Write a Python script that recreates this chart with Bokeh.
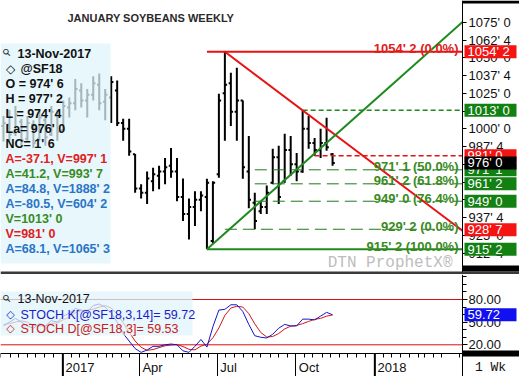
import pandas as pd
from bokeh.plotting import figure
from bokeh.models import Range1d, FixedTicker, Label, BoxAnnotation, ColumnDataSource
from bokeh.layouts import column
from bokeh.embed import file_html
from bokeh.resources import INLINE

# ---------------- data ----------------
last_week = "2017-11-13"
opens = [1002, 1003, 997, 1005, 993, 1003, 993, 1006, 996, 1010, 999, 1015, 1018, 1027, 1020, 1024, 1031, 1019, 1022, 1027,
         1004, 1000, 982, 958, 955, 963, 967, 970, 974, 970, 952, 940, 945, 950, 952, 921, 968, 1025, 1032, 1012,
         1020, 970, 948, 942, 945, 962, 980, 963, 985, 975, 970, 1000, 990, 985, 990, 982]
highs = [1009, 1013, 1016, 1007, 1009, 1006, 1013, 1009, 1016, 1013, 1020, 1022, 1035, 1032, 1028, 1037, 1039, 1028, 1037, 1034,
         1007, 1007, 982.25, 961, 970, 972.5, 974, 979.5, 986.5, 979.5, 965, 951, 956, 956, 964.75, 963, 1024.75, 1054.25, 1039.5, 1043,
         1020, 995, 955, 949, 960, 986, 988, 996.5, 995, 983, 1013, 1009, 993.5, 1000, 1007.75, 983]
lows = [991, 991.5, 995, 988, 991.5, 986.5, 991.5, 988, 995, 991.5, 998.5, 1008, 1013, 1015, 1008, 1020, 1013, 1006, 1004, 1002,
        991.5, 981, 955, 951, 947, 956, 957.5, 961, 965.5, 949, 935, 922, 931.5, 942, 915.25, 919, 965.5, 991.5, 1002, 991.5,
        964.75, 944, 929.25, 940, 940, 961, 947, 962, 967, 963, 969, 986, 981, 979.5, 984.5, 974]
closes = [1004, 996, 1010, 992, 1004, 990, 1008, 994, 1012, 998, 1016, 1018, 1028, 1020, 1024, 1032, 1018, 1024, 1033, 1004,
          1000, 984, 958, 955, 965, 968, 970, 973, 970, 952, 940, 945, 950, 953, 962, 962, 1020, 1031, 1012, 1020,
          973, 950, 935, 945, 955, 980, 952, 985, 975, 970, 1000, 990, 985, 990, 987, 976]

stoch_k = [45, 50, 55, 50, 45, 42, 48, 45, 52, 50, 58, 62, 68, 66, 64, 72, 74, 70, 62, 50,
           35, 25, 15, 10, 13, 18, 18, 20, 21, 20, 12, 10, 18, 27, 17, 44, 66, 67, 73, 73,
           64, 47, 32, 30, 29, 34, 42, 47, 45, 45, 54, 54, 53, 58, 63, 59.72]
stoch_d = [47, 48, 50, 51.7, 50, 45.7, 45, 45, 48.3, 49, 53.3, 56.7, 62.7, 65.3, 66, 67.3, 70, 72, 68.7, 60.7,
           49, 36.7, 25, 16.7, 12.7, 13.7, 16.3, 18.7, 19.7, 20.3, 17.7, 14, 13.3, 18.3, 20.7, 29.3, 42.3, 59, 68.7, 71,
           70, 61.3, 47.7, 36.3, 30.3, 31, 35, 41, 44.7, 45.7, 48, 51, 53.7, 55, 58, 59.53]

price_ticks = [912.5, 925.0, 937.5, 950.0, 962.5, 975.0, 987.5, 1000.0, 1012.5, 1025.0, 1037.5, 1050.0, 1062.5, 1075.0]
price_tick_labels = ["912' 4", "925' 0", "937' 4", "950' 0", "962' 4", "975' 0", "987' 4", "1000' 0",
                     "1012' 4", "1025' 0", "1037' 4", "1050' 0", "1062' 4", "1075' 0"]
stoch_ticks = [20, 50, 80]
stoch_tick_labels = ["20.00", "50.00", "80.00"]
stoch_minor = [10, 30, 40, 60, 70, 90, 100, 110]
stoch_levels = [20, 80]
quarter_dates = ["2017-01-01", "2017-04-01", "2017-07-01", "2017-10-01", "2018-01-01"]
quarter_labels = ["2017", "Apr", "Jul", "Oct", "2018"]
year_dates = ["2017-01-01", "2018-01-01"]

fib_levels = [1054.25, 971.125, 961.25, 949.0, 929.25, 915.25]
fib_texts = ["1054' 2 (0.0%)", "971' 1 (50.0%)", "961' 2 (61.8%)", "949' 0 (76.4%)", "929' 2 (0.0%)", "915' 2 (100.0%)"]
fib_starts = ["2017-06-19", "2017-08-14", "2017-08-14", "2017-08-14", "2017-07-10", "2017-06-19"]
resist_level, resist_start = 1013.0, "2017-10-09"
support_level, support_start = 981.0, "2017-10-23"
red_trend = (["2017-07-10", "2017-10-09"], [1054.25, 1013.0])
green_trend = (["2017-06-19", "2017-11-13"], [915.25, 993.875])

box_values = [1054.25, 1013.0, 981.0, 971.125, 961.25, 949.0, 928.875, 915.25, 976.0]
box_texts = ["1054' 2", "1013' 0", "981' 0", "971' 1", "961' 2", "949' 0", "928' 7", "915' 2", "976' 0"]
box_kinds = ["r", "g", "r", "g", "g", "g", "r", "g", "k"]

legend_lines = ["13-Nov-2017", "@SF18", "O = 974' 6", "H = 977' 2", "L = 974' 4", "La= 976' 0", "NC= 1' 6",
                "A=-37.1, V=997' 1", "A=41.2, V=993' 7", "A=84.8, V=1888' 2", "A=-80.5, V=604' 2",
                "V=1013' 0", "V=981' 0", "A=68.1, V=1065' 3"]
legend_kinds = ["k", "k", "k", "k", "k", "k", "k", "r", "g", "b", "b", "g", "r", "b"]

# ---------------- styling / layout helpers ----------------
RED = "#e81212"
GREEN = "#1f8a1f"
DGREEN = "#1e7a1e"
TXT_COL = {"k": "#111111", "r": "#e0201c", "g": "#3a8a1e", "b": "#2a74c6"}
BOX_COL = {"r": "#f51414", "g": "#138013", "k": "#000000"}
SANS = "Liberation Sans"
MONO = "Liberation Mono"


def ms(d):
    return pd.Timestamp(d).value / 1e6


X0, X1 = ms("2016-10-20 12:00"), ms("2018-04-14")   # plot area: pixel columns 0 .. 462
FW = 462
PX = (X1 - X0) / FW                                  # time per pixel


def xat(px):              # pixel column -> time
    return X0 + PX * px


def price_at(y):          # pixel row -> price (main panel)
    return 1000 + (128.3 - y) / 1.42


def stoch_at(y):          # pixel row -> stochastic value (lower panel)
    return 20 + (344.3 - y) / 0.755


XR = xat(519)             # right edge of the canvas (price scale area included)


def rect(fig, l, r, b, t, color, alpha=1.0):
    fig.add_layout(BoxAnnotation(left=l, right=r, bottom=b, top=t, fill_color=color,
                                 fill_alpha=alpha, line_color=None))


dates = pd.date_range(end=last_week, periods=len(highs), freq="7D")
src = ColumnDataSource(dict(x=dates, xl=dates - pd.Timedelta(days=2.6), xr=dates + pd.Timedelta(days=2.6),
                            o=opens, h=highs, l=lows, c=closes, k=stoch_k, d=stoch_d))

# ---------------- main panel ----------------
p1 = figure(width=519, height=274, x_axis_type="datetime", x_axis_location=None, y_axis_location="right",
            x_range=Range1d(X0, XR), y_range=Range1d(price_at(274), price_at(0)),
            output_backend="svg", toolbar_location=None,
            min_border_left=0, min_border_right=0, min_border_top=0, min_border_bottom=0)
p1.grid.visible = False
p1.outline_line_color = None
ya = p1.yaxis[0]
ya.fixed_location = X1
ya.ticker = FixedTicker(ticks=price_ticks)
ya.major_label_overrides = dict(zip(price_ticks, price_tick_labels))
ya.major_tick_out, ya.major_tick_in, ya.minor_tick_out, ya.minor_tick_in = 4, 0, 0, 0
ya.major_label_standoff = 2
ya.major_label_text_font = SANS
ya.major_label_text_font_size = "13px"
ya.major_label_text_color = "#111111"
ya.axis_line_color = "black"
ya.major_tick_line_color = "black"

# OHLC bars
p1.segment("x", "l", "x", "h", source=src, line_color="black", line_width=2)
p1.segment("xl", "o", "x", "o", source=src, line_color="black", line_width=2)
p1.segment("x", "c", "xr", "c", source=src, line_color="black", line_width=2)

# fib / level lines
for lvl, start in zip(fib_levels, fib_starts):
    if lvl == 1054.25:
        p1.line([ms(start), X1], [lvl, lvl], line_color=RED, line_width=2)
    elif lvl == 915.25:
        p1.line([ms(start), X1], [lvl, lvl], line_color=GREEN, line_width=2)
    else:
        p1.line([ms(start), X1], [lvl, lvl], line_color=DGREEN, line_width=1, line_dash="12 6")
p1.line([ms(resist_start), X1], [resist_level, resist_level], line_color=GREEN, line_width=1.5, line_dash="5 3")
p1.line([ms(support_start), X1], [support_level, support_level], line_color=RED, line_width=1.5, line_dash="5 3")

# trend lines extended to the right edge of the plot area
for (dts, vals), col in ((red_trend, RED), (green_trend, GREEN)):
    xa0, xa1 = ms(dts[0]), ms(dts[1])
    slope = (vals[1] - vals[0]) / (xa1 - xa0)
    p1.line([xa0, X1], [vals[0], vals[0] + slope * (X1 - xa0)], line_color=col, line_width=2)

# fib labels
for lvl, txt in zip(fib_levels, fib_texts):
    col = TXT_COL["r"] if lvl == 1054.25 else TXT_COL["g"]
    p1.add_layout(Label(x=X1, y=lvl, text=txt, x_offset=-4, y_offset=3, text_align="right",
                        text_baseline="alphabetic", text_font=SANS, text_font_size="13px",
                        text_font_style="bold", text_color=col))

# watermark and title
p1.add_layout(Label(x=xat(452), y=price_at(262), text="DTN ProphetX\u00ae", text_align="right", text_baseline="middle",
                    text_font=MONO, text_font_size="16px", text_color="#bdbdbd"))
p1.add_layout(Label(x=xat(67), y=price_at(17), text="JANUARY SOYBEANS WEEKLY", text_baseline="middle",
                    text_font=SANS, text_font_size="11px", text_font_style="bold", text_color="#2a2a2a"))

# legend box
rect(p1, xat(0), xat(110), price_at(263), price_at(43), "#def4fa", 0.74)
for i, (txt, kind) in enumerate(zip(legend_lines, legend_kinds)):
    xpx = 17 if i == 0 else (20 if i == 1 else 5)
    p1.add_layout(Label(x=xat(xpx), y=price_at(53 + 15 * i), text=txt, text_baseline="middle",
                        text_font=SANS, text_font_size="12.5px", text_font_style="bold", text_color=TXT_COL[kind]))
p1.add_layout(Label(x=xat(6), y=price_at(52), text="\u26b2", angle=0.785, text_align="center", text_baseline="middle",
                    text_font="DejaVu Sans", text_font_size="10px", text_color="#222222"))
p1.add_layout(Label(x=xat(10), y=price_at(68), text="\u25c7", text_align="center", text_baseline="middle",
                    text_font="DejaVu Sans", text_font_size="12px", text_font_style="bold", text_color="#111111"))

# separator between panels and black strips of the price scale
rect(p1, X0, XR, price_at(273.5), price_at(271), "#3a3a3a")
rect(p1, X1, XR, price_at(3), price_at(0), "#000000")
rect(p1, X1, XR, price_at(271), price_at(265), "#000000")

# value boxes on the price scale
half1 = 6.5 / 1.42
for v, t, k in zip(box_values, box_texts, box_kinds):
    rect(p1, xat(464), xat(516), v - half1, v + half1, BOX_COL[k])
    p1.add_layout(Label(x=xat(467), y=v, text=t, text_baseline="middle", text_font=SANS,
                        text_font_size="13px", text_color="white"))

# ---------------- stochastic panel ----------------
p2 = figure(width=519, height=102, x_axis_type="datetime", y_axis_location="right",
            x_range=p1.x_range, y_range=Range1d(stoch_at(376), stoch_at(274)),
            output_backend="svg", toolbar_location=None,
            min_border_left=0, min_border_right=0, min_border_top=0, min_border_bottom=0)
p2.grid.visible = False
p2.outline_line_color = None
for lvl in stoch_levels:
    p2.line([X0, X1], [lvl, lvl], line_color="#d81010", line_width=1)
p2.line("x", "d", source=src, line_color="#d01818", line_width=1)
p2.line("x", "k", source=src, line_color="#1414c8", line_width=1)

y2 = p2.yaxis[0]
y2.fixed_location = X1
y2.ticker = FixedTicker(ticks=stoch_ticks, minor_ticks=stoch_minor)
y2.major_label_overrides = dict(zip(stoch_ticks, stoch_tick_labels))
y2.major_tick_out, y2.major_tick_in, y2.minor_tick_out, y2.minor_tick_in = 5, 0, 4, 0
y2.major_label_standoff = 1
y2.major_label_text_font = SANS
y2.major_label_text_font_size = "13px"
y2.major_label_text_color = "#111111"
y2.axis_line_color = "black"

quarter_ms = [ms(d) for d in quarter_dates]
minor_ms = []
for d in pd.date_range("2016-10-01", "2018-04-30", freq="MS"):
    for off in (0, 10, 20):
        if off == 0 and d.month in (1, 4, 7, 10):
            continue
        t = ms(d + pd.Timedelta(days=off))
        if X0 < t < X1:
            minor_ms.append(t)
xa = p2.xaxis[0]
xa.fixed_location = stoch_at(353)
xa.ticker = FixedTicker(ticks=quarter_ms, minor_ticks=minor_ms)
xa.major_label_overrides = {q: "" for q in quarter_ms}
xa.major_tick_out, xa.major_tick_in, xa.minor_tick_out, xa.minor_tick_in = 23, 0, 4, 0
xa.major_label_standoff = 0
xa.major_label_text_font_size = "1px"
xa.axis_line_color = "black"
for q, lab in zip(quarter_ms, quarter_labels):
    p2.add_layout(Label(x=q, y=stoch_at(367), x_offset=3, text=lab, text_baseline="middle", text_font=SANS,
                        text_font_size="13px", text_color="#111111"))
# year boundaries drawn a little heavier
for yd in year_dates:
    rect(p2, ms(yd) - 0.6 * PX, ms(yd) + 1.4 * PX, stoch_at(376), stoch_at(353), "#000000")

# stochastic legend
rect(p2, xat(0), xat(192), stoch_at(335), stoch_at(291), "#def4fa", 0.74)
p2.add_layout(Label(x=xat(17), y=stoch_at(298), text="13-Nov-2017", text_baseline="middle", text_font=SANS,
                    text_font_size="12.5px", text_color="#111111"))
p2.add_layout(Label(x=xat(6), y=stoch_at(298), text="\u26b2", angle=0.785, text_align="center", text_baseline="middle",
                    text_font="DejaVu Sans", text_font_size="10px", text_color="#222222"))
for yy, txt, col in ((314, "STOCH K[@SF18,3,14]= 59.72", "#1c1cc8"), (328, "STOCH D[@SF18,3]= 59.53", "#c82020")):
    p2.add_layout(Label(x=xat(20), y=stoch_at(yy), text=txt, text_baseline="middle", text_font=SANS,
                        text_font_size="12.5px", text_color=col))
    p2.add_layout(Label(x=xat(10), y=stoch_at(yy), text="\u25c7", text_align="center", text_baseline="middle",
                        text_font="DejaVu Sans", text_font_size="11px", text_font_style="bold", text_color=col))

half2 = 6.5 / 0.755
rect(p2, xat(464), xat(516), stoch_k[-1] - half2, stoch_k[-1] + half2, "#1010f0")
p2.add_layout(Label(x=xat(467), y=stoch_k[-1], text="59.72", text_baseline="middle", text_font=SANS,
                    text_font_size="13px", text_color="white"))
rect(p2, X1, XR, stoch_at(356), stoch_at(350), "#000000")
p2.add_layout(Label(x=xat(490), y=stoch_at(367), text="1 Wk", text_align="center", text_baseline="middle",
                    text_font=MONO, text_font_size="13px", text_color="#111111"))

layout = column(p1, p2, spacing=0)
open("out.html", "w").write(file_html(layout, INLINE))
